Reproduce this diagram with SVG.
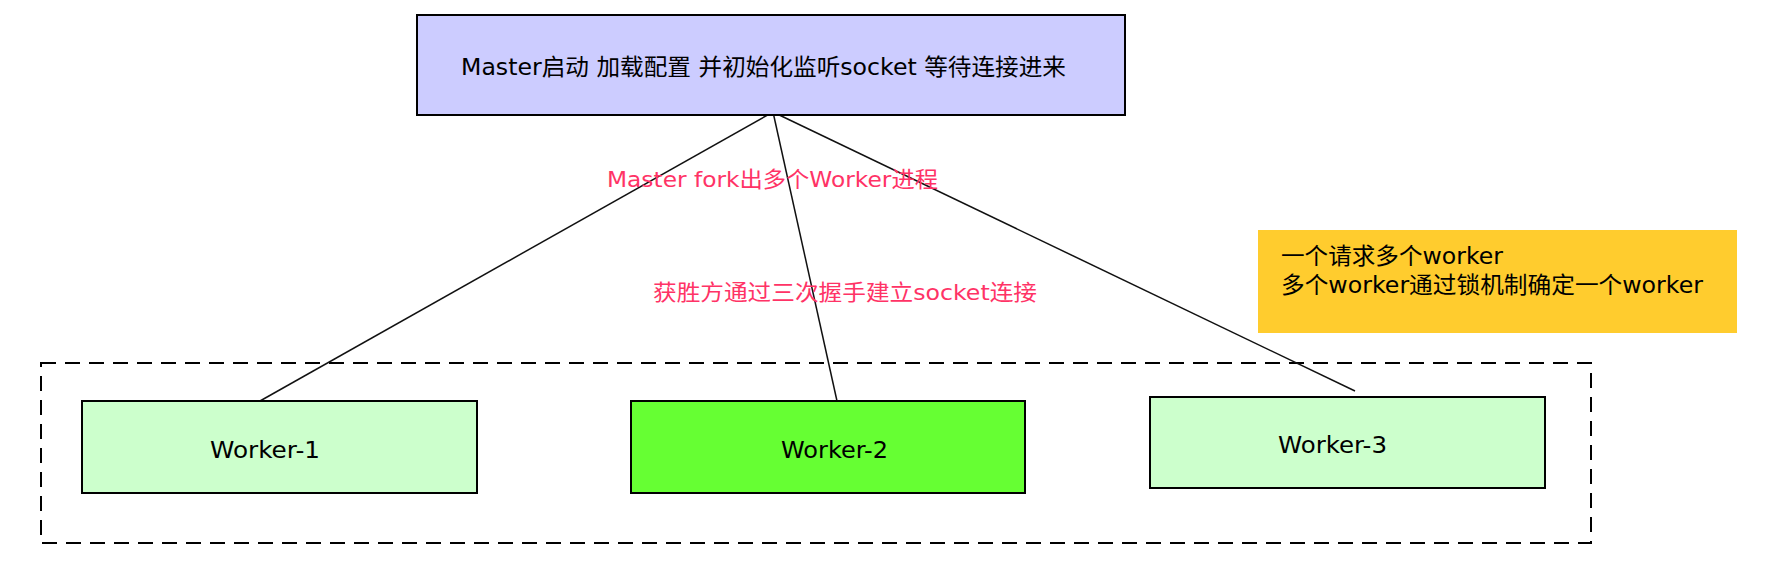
<svg xmlns="http://www.w3.org/2000/svg" width="1768" height="572" viewBox="0 0 1768 572">
  <style>
    .box { stroke: #000; stroke-width: 2; }
    .t { font-family: "DejaVu Sans", "Noto Sans CJK SC", sans-serif; font-size: 23px; fill: #000; }
    .lbl { font-family: "DejaVu Sans", "Noto Sans CJK SC", sans-serif; font-size: 22px; fill: #ff3366; }
    .conn { stroke: #111; stroke-width: 1.5; fill: none; }
  </style>
  <rect width="1768" height="572" fill="#ffffff"/>
  <g id="group-workers">
    <rect x="41" y="363" width="1550" height="180" fill="none" stroke="#000" stroke-width="2" stroke-dasharray="15 9"/>
  </g>
  <g id="connectors">
    <line class="conn" x1="773" y1="112" x2="260" y2="401"/>
    <line class="conn" x1="773" y1="112" x2="837" y2="401"/>
    <line class="conn" x1="773" y1="112" x2="1355" y2="391"/>
    <text class="lbl" x="607" y="187" textLength="331" lengthAdjust="spacingAndGlyphs" font-size="23">Master fork出多个Worker进程</text>
    <text class="lbl" x="653" y="300" textLength="384" lengthAdjust="spacingAndGlyphs">获胜方通过三次握手建立socket连接</text>
  </g>
  <g id="master">
    <rect class="box" x="417" y="15" width="708" height="100" fill="#ccccff"/>
    <text class="t" x="461" y="75" textLength="605" lengthAdjust="spacingAndGlyphs">Master启动 加载配置 并初始化监听socket 等待连接进来</text>
  </g>
  <g id="note">
    <rect x="1258" y="230" width="479" height="103" fill="#ffcc2e"/>
    <text class="t" x="1281" y="264" textLength="222" lengthAdjust="spacingAndGlyphs">一个请求多个worker</text>
    <text class="t" x="1281" y="293" textLength="422" lengthAdjust="spacingAndGlyphs">多个worker通过锁机制确定一个worker</text>
  </g>
  <g id="worker-1">
    <rect class="box" x="82" y="401" width="395" height="92" fill="#ccffcc"/>
    <text class="t" x="210" y="458" textLength="110" lengthAdjust="spacingAndGlyphs">Worker-1</text>
  </g>
  <g id="worker-2">
    <rect class="box" x="631" y="401" width="394" height="92" fill="#66ff33"/>
    <text class="t" x="781" y="458" textLength="107" lengthAdjust="spacingAndGlyphs">Worker-2</text>
  </g>
  <g id="worker-3">
    <rect class="box" x="1150" y="397" width="395" height="91" fill="#ccffcc"/>
    <text class="t" x="1278" y="453" textLength="109" lengthAdjust="spacingAndGlyphs">Worker-3</text>
  </g>
</svg>
